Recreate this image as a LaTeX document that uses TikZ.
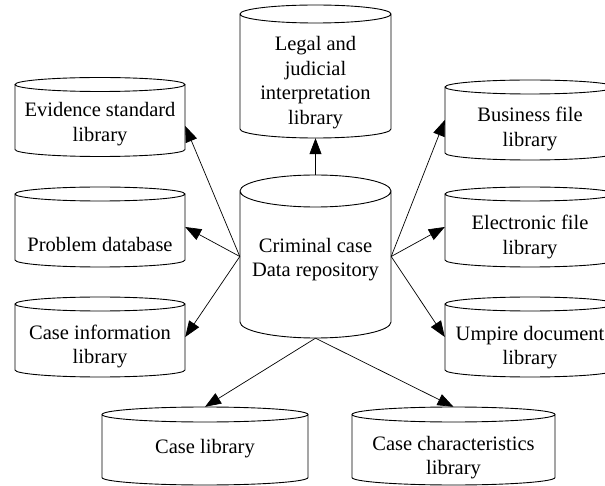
\documentclass[tikz,border=0pt]{standalone}
\usepackage{fontspec}
\setmainfont{Liberation Serif}
\usetikzlibrary{arrows.meta}

\begin{document}
\begin{tikzpicture}[x=1pt,y=-1pt,
  store/.style={rectangle, align=center, inner sep=0pt, text depth=0pt,
    font=\fontsize{20.5}{24.5}\selectfont},
  rim/.style={line width=0.9pt},
  link/.style={-{Triangle[length=16pt,width=12pt]}, line width=0.7pt}]
\useasboundingbox (0,0) rectangle (605,486);

% Stores: name / centre x / centre y / width / height / rim radius / text height / text
\foreach \n/\cx/\cy/\w/\h/\r/\th/\txt in {
    crim/315.5/256.5/151/163/16/40/{Criminal case\\Data repository},
    legal/315.5/71.5/151/133/9/106/{Legal and\\judicial\\interpretation\\library},
    evid/100/117/170/79/7/49/{Evidence standard\\library},
    prob/100/227/170/80/7/49/{Problem database},
    info/100/337/170/80/7/53/{Case information\\library},
    busi/530/120/170/80/7/53/{Business file\\library},
    elec/530/227/170/80/7/55/{Electronic file\\library},
    umpi/530/337/170/80/7/55/{Umpire document\\library},
    clib/205/446/206/78/7.5/15/{Case library},
    char/453.5/446/203/78/7.5/57/{Case characteristics\\library}}{
  \node[store, minimum width=\w pt, minimum height=\h pt, text height=\th pt] (\n) at (\cx,\cy) {\txt};
  \draw[rim] (\cx-\w/2,\cy-\h/2+\r) -- (\cx-\w/2,\cy+\h/2-\r)
    arc[start angle=180, end angle=0, x radius=\w/2, y radius=\r]
    -- (\cx+\w/2,\cy-\h/2+\r)
    (\cx,\cy-\h/2+\r) ellipse [x radius=\w/2, y radius=\r];
}

% Links
\draw[link] (crim.north) -- (legal.south);
\draw[link] (crim.west) -- (evid.-6);
\draw[link] (crim.west) -- (prob.east);
\draw[link] (crim.west) -- (info.east);
\draw[link] (crim.east) -- (busi.west);
\draw[link] (crim.east) -- (elec.west);
\draw[link] (crim.east) -- (umpi.west);
\draw[link] (crim.south) -- (clib.north);
\draw[link] (crim.south) -- (char.north);
\end{tikzpicture}
\end{document}
